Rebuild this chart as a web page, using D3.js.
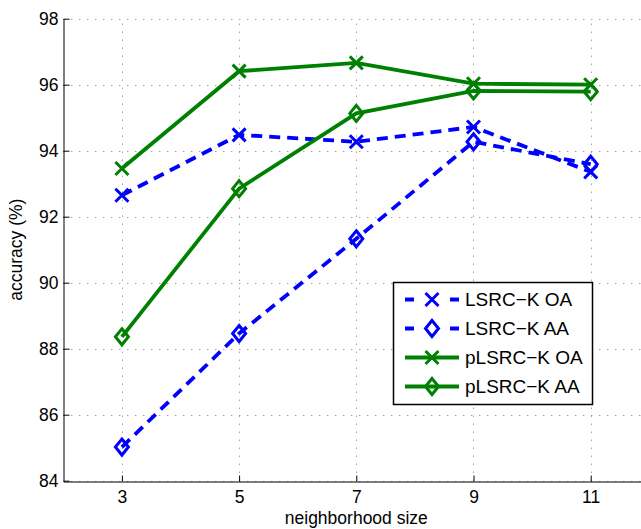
<!DOCTYPE html>
<html>
<head>
<meta charset="utf-8">
<script src="https://cdn.jsdelivr.net/npm/d3@7"></script>
<style>
  body { margin: 0; background: #fff; }
  text { font-family: "Liberation Sans", Arial, Helvetica, sans-serif; }
</style>
</head>
<body>
<div id="chart"></div>
<script>
// neighborhood sizes and accuracy (%) for each method
const sizes   = [3, 5, 7, 9, 11];
const lsrcOA  = [92.65, 94.48, 94.27, 94.72, 93.36];
const lsrcAA  = [85.02, 88.46, 91.33, 94.27, 93.59];
const plsrcOA = [93.46, 96.41, 96.66, 96.03, 96.00];
const plsrcAA = [88.36, 92.85, 95.13, 95.81, 95.79];

const xTicks = [3, 5, 7, 9, 11];
const yTicks = [84, 86, 88, 90, 92, 94, 96, 98];

const series = [
  { name: "LSRC\u2212K OA",  values: lsrcOA,  color: "#0000ff", dashed: true,  marker: "x" },
  { name: "LSRC\u2212K AA",  values: lsrcAA,  color: "#0000ff", dashed: true,  marker: "d" },
  { name: "pLSRC\u2212K OA", values: plsrcOA, color: "#008000", dashed: false, marker: "x" },
  { name: "pLSRC\u2212K AA", values: plsrcAA, color: "#008000", dashed: false, marker: "d" }
];

const W = 641, H = 529;
const plotL = 63.3, plotT = 18.7, plotB = 480.7, plotR = 649.3;
const fs = 17.5;

const svg = d3.select("#chart").append("svg")
  .attr("width", W).attr("height", H);

const x = d3.scaleLinear().domain([2, 12]).range([plotL, plotR]);
const y = d3.scaleLinear().domain([84, 98]).range([plotB, plotT]);

// dotted grid
const grid = svg.append("g")
  .attr("stroke", "#777").attr("stroke-width", 1)
  .attr("stroke-dasharray", "1,7");
grid.selectAll(".gx").data(xTicks).join("line")
  .attr("x1", d => Math.round(x(d)) + 0.5).attr("x2", d => Math.round(x(d)) + 0.5)
  .attr("y1", plotB).attr("y2", plotT);
grid.selectAll(".gy").data(yTicks).join("line")
  .attr("y1", d => Math.round(y(d)) + 0.5).attr("y2", d => Math.round(y(d)) + 0.5)
  .attr("x1", plotL).attr("x2", plotR);

// axes
const xAxis = svg.append("g")
  .attr("transform", `translate(0,${Math.round(plotB) + 0.5})`)
  .call(d3.axisBottom(x).tickValues(xTicks).tickSizeInner(-6).tickSizeOuter(0).tickPadding(9));
const yAxis = svg.append("g")
  .attr("transform", `translate(${Math.round(plotL) + 0.5},0)`)
  .call(d3.axisLeft(y).tickValues(yTicks).tickSizeInner(-6).tickSizeOuter(0).tickPadding(5));

[xAxis, yAxis].forEach(g => {
  g.selectAll("text").attr("font-size", fs).attr("fill", "#000")
    .attr("font-family", "'Liberation Sans', Arial, Helvetica, sans-serif");
  g.selectAll("line, path").attr("stroke", "#000");
});

// axis titles
svg.append("text")
  .attr("x", x(7)).attr("y", 524)
  .attr("text-anchor", "middle").attr("font-size", fs)
  .text("neighborhood size");
svg.append("text")
  .attr("transform", `translate(22,${(plotT + plotB) / 2}) rotate(-90)`)
  .attr("text-anchor", "middle").attr("font-size", fs)
  .text("accuracy (%)");

// marker shapes
function markerPath(type) {
  if (type === "x") return "M-6.5,-6.5L6.5,6.5M-6.5,6.5L6.5,-6.5";
  return "M0,-8L6.5,0L0,8L-6.5,0Z";
}

const line = d3.line()
  .x((d, i) => x(sizes[i]))
  .y(d => y(d));

series.forEach(s => {
  svg.append("path")
    .datum(s.values)
    .attr("d", line)
    .attr("fill", "none")
    .attr("stroke", s.color)
    .attr("stroke-width", 3.8)
    .attr("stroke-dasharray", s.dashed ? "11,7" : null);

  svg.append("g").selectAll("path")
    .data(s.values)
    .join("path")
      .attr("transform", (d, i) => `translate(${x(sizes[i])},${y(d)})`)
      .attr("d", markerPath(s.marker))
      .attr("fill", "none")
      .attr("stroke", s.color)
      .attr("stroke-width", 3);
});

// legend
const legend = svg.append("g").attr("transform", "translate(393,282)");
legend.append("rect")
  .attr("x", 0.5).attr("y", 0.5)
  .attr("width", 199).attr("height", 122)
  .attr("fill", "#fff").attr("stroke", "#000").attr("stroke-width", 1.5);

const rows = legend.selectAll(".row").data(series).join("g")
  .attr("transform", (d, i) => `translate(0,${17.5 + i * 29})`);
rows.append("line")
  .attr("x1", 12).attr("x2", 66).attr("y1", 0).attr("y2", 0)
  .attr("stroke", d => d.color).attr("stroke-width", 3.8)
  .attr("stroke-dasharray", d => d.dashed ? "9,36" : null);
rows.append("path")
  .attr("transform", "translate(39,0)")
  .attr("d", d => markerPath(d.marker))
  .attr("fill", "none")
  .attr("stroke", d => d.color).attr("stroke-width", 3);
rows.append("text")
  .attr("x", 72).attr("y", 0).attr("dy", "0.35em")
  .attr("font-size", 19)
  .text(d => d.name);
</script>
</body>
</html>
